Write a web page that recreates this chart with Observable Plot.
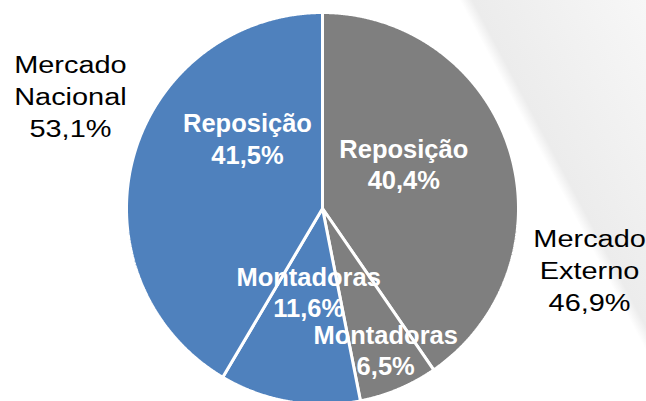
<!DOCTYPE html>
<html><head><meta charset="utf-8">
<script src="https://cdn.jsdelivr.net/npm/d3@7"></script>
<script src="https://cdn.jsdelivr.net/npm/@observablehq/plot@0.6"></script>
<style>
html,body{margin:0;padding:0;background:#fff;}
#chart{width:646px;height:401px;overflow:hidden;
  background:linear-gradient(62deg,#ffffff 0%,#ffffff 78.3%,#ececec 79.8%,#f7f7f7 100%);}
</style></head><body><div id="chart"></div>
<script>
// ---- data (clockwise from 12 o'clock) ----
const segments = ["Reposição", "Montadoras", "Montadoras", "Reposição"];
const markets  = ["Externo", "Externo", "Nacional", "Nacional"];
const shares   = [40.4, 6.5, 11.6, 41.5];
const marketOrder  = ["Nacional", "Externo"];
const marketColors = ["#4f81bd", "#7f7f7f"];

// ---- layout ----
const W = 646, H = 401, CX = 322, CY = 208, R = 196;
const fmt = v => v.toFixed(1).replace(".", ",") + "%";

const rows = segments.map((s, i) => ({segment: s, market: markets[i], share: shares[i]}));
const arcs = d3.pie().sort(null).value(d => d.share).startAngle(0).endAngle(2 * Math.PI)(rows);

// polygon vertices of each slice, derived from the pie angles
const pts = [];
arcs.forEach((a, i) => {
  const m = rows[i].market;
  pts.push({k: i, market: m, x: 0, y: 0});
  const n = Math.max(2, Math.ceil((a.endAngle - a.startAngle) / 0.004));
  for (let j = 0; j <= n; j++) {
    const t = a.startAngle + (a.endAngle - a.startAngle) * j / n;
    pts.push({k: i, market: m, x: Math.sin(t), y: Math.cos(t)});
  }
});

// inner labels at mid-angle
const LR = 0.6;
const inner = arcs.map((a, i) => {
  const t = (a.startAngle + a.endAngle) / 2;
  return {k: i, x: LR * Math.sin(t), y: LR * Math.cos(t),
          text: rows[i].segment + "\n" + fmt(rows[i].share)};
});
const innerNudge = [[-31, -38.3], [17.5, 4.3], [6, -61.3], [38.4, -68]];

// outer market labels at mid-angle of each market group
const outer = marketOrder.map(m => {
  const as = arcs.filter((a, i) => rows[i].market === m);
  const s0 = d3.min(as, a => a.startAngle), s1 = d3.max(as, a => a.endAngle);
  const t = (s0 + s1) / 2;
  const total = d3.sum(as, a => a.data.share);
  return {market: m, x: Math.sin(t), y: Math.cos(t), text: "Mercado\n" + m + "\n" + fmt(total)};
});
const outerNudge = {Nacional: [-57, -177.2], Externo: [72, 34.8]};

const marks = [
  Plot.line(pts, {x: "x", y: "y", z: "k", fill: "market", stroke: "white",
    strokeWidth: 3, strokeLinejoin: "miter", curve: "linear-closed"})
];
inner.forEach((d, i) => {
  marks.push(Plot.text([d], {x: "x", y: "y", text: "text", fill: "white",
    fontWeight: "bold", fontSize: 25.5, fontFamily: "Liberation Sans, Arial, sans-serif",
    lineAnchor: "top", lineHeight: 1.24, textAnchor: "middle",
    dx: innerNudge[i][0], dy: innerNudge[i][1]}));
});
outer.forEach(d => {
  marks.push(Plot.text([d], {x: "x", y: "y", text: "text", fill: "black",
    fontSize: 24.5, fontFamily: "Liberation Sans, Arial, sans-serif",
    lineAnchor: "top", lineHeight: 1.3, textAnchor: "middle",
    dx: outerNudge[d.market][0], dy: outerNudge[d.market][1]}));
});

const chart = Plot.plot({
  width: W, height: H,
  marginTop: 0, marginRight: 0, marginBottom: 0, marginLeft: 0,
  x: {domain: [-CX / R, (W - CX) / R], range: [0, W], axis: null},
  y: {domain: [-(H - CY) / R, CY / R], range: [H, 0], axis: null},
  color: {domain: marketOrder, range: marketColors},
  style: {background: "transparent", overflow: "hidden"},
  marks
});
document.getElementById("chart").appendChild(chart);

// regular-weight outer labels are horizontally stretched in the reference
chart.querySelectorAll("text").forEach(el => {
  const g = el.closest("g");
  if (g && g.getAttribute("font-weight") !== "bold") {
    el.setAttribute("transform", (el.getAttribute("transform") || "") + " scale(1.18,1)");
  }
});
</script></body></html>
